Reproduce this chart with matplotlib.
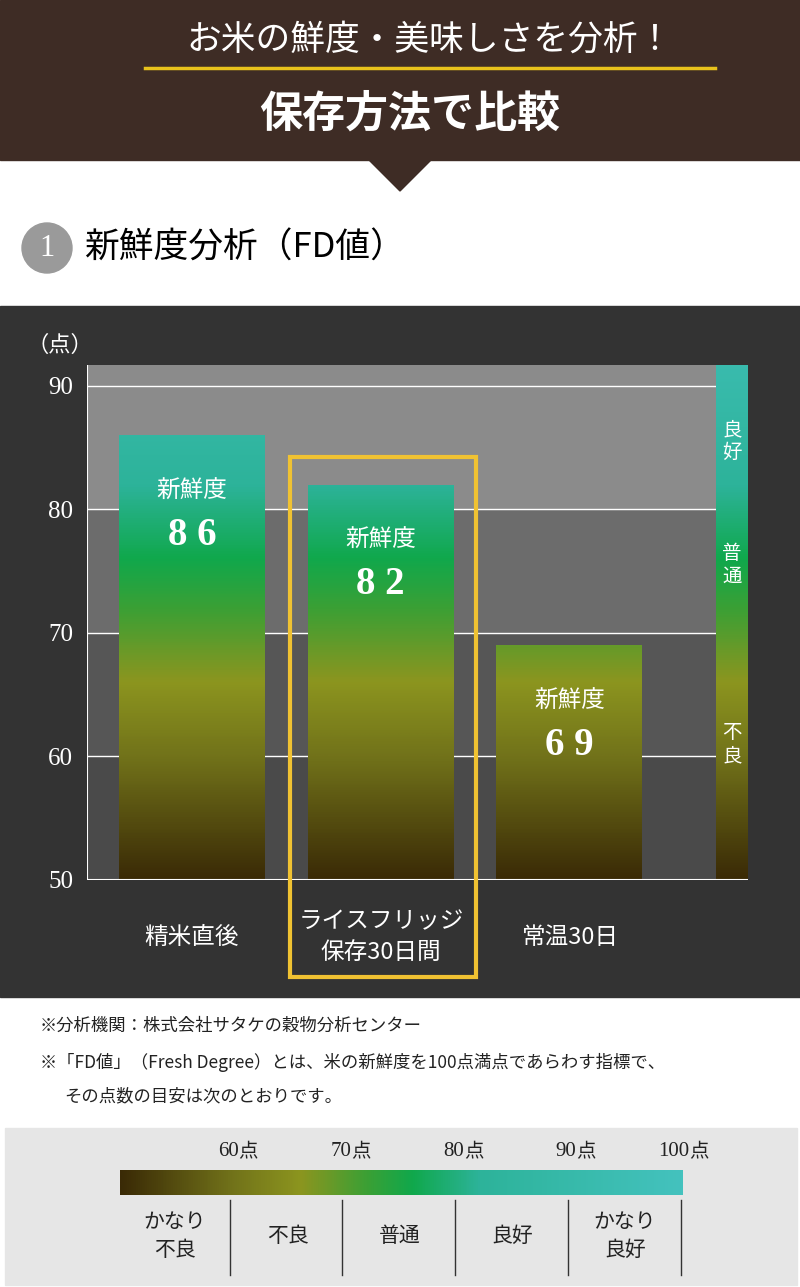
import numpy as np
import matplotlib
matplotlib.use("Agg")
from matplotlib import pyplot as plt
from matplotlib.colors import LinearSegmentedColormap
from matplotlib.patches import Rectangle, Polygon, Circle

JP = "Noto Sans CJK JP"
SERIF = "Liberation Serif"

categories = ["精米直後", "ライスフリッジ\n保存30日間", "常温30日"]
fd_values = [86, 82, 69]
y_ticks = [50, 60, 70, 80, 90]
scale_ticks = [60, 70, 80, 90, 100]
scale_bands = ["かなり\n不良", "不良", "普通", "良好", "かなり\n良好"]
strip_labels = [("良好", 85.5), ("普通", 75.5), ("不良", 61)]

W, H = 800, 1287
fig = plt.figure(figsize=(W / 100, H / 100), dpi=100)
fig.patch.set_facecolor("white")


def fx(x):
    return x / W


def fy(y):
    return 1 - y / H


# colour scale by FD value
stops = [(50, "#3a2a06"), (60, "#72731a"), (66, "#8c951f"), (72, "#3aa035"),
         (76, "#10a84c"), (82, "#2db39a"), (100, "#44c2be")]
cmap = LinearSegmentedColormap.from_list(
    "fd", [((v - 50) / 50, c) for v, c in stops])

# header
bg = fig.add_axes([0, 0, 1, 1])
bg.set_xlim(0, W)
bg.set_ylim(H, 0)
bg.axis("off")
bg.add_patch(Rectangle((0, 0), W, 160, color="#3e2c25"))
bg.add_patch(Polygon([[368, 159], [432, 159], [400, 191]], color="#3e2c25"))
bg.plot([145, 715], [68, 68], color="#e8c21c", lw=2.5)
bg.text(430, 40, "お米の鮮度・美味しさを分析！", color="white", fontsize=25,
        family=JP, ha="center", va="center")
bg.text(410, 114, "保存方法で比較", color="white", fontsize=31, family=JP,
        weight="bold", ha="center", va="center")
bg.add_patch(Circle((47, 248), 25, color="#9a9a9a"))
bg.text(47, 248, "1", color="white", fontsize=22, family=SERIF,
        ha="center", va="center")
bg.text(84, 248, "新鮮度分析（FD値）", color="black", fontsize=25, family=JP,
        ha="left", va="center")

# dark panel
bg.add_patch(Rectangle((0, 306), W, 691, color="#333333"))
bg.text(60, 345, "（点）", color="white", fontsize=16, family=JP,
        ha="center", va="center")

# notes
bg.text(40, 1026, "※分析機関：株式会社サタケの穀物分析センター", fontsize=12.5,
        family=JP, va="center", color="#222222")
bg.text(40, 1062, "※「FD値」（Fresh Degree）とは、米の新鮮度を100点満点であらわす指標で、",
        fontsize=12.5, family=JP, va="center", color="#222222")
bg.text(64, 1096, "その点数の目安は次のとおりです。", fontsize=12.5, family=JP,
        va="center", color="#222222")

# legend box
bg.add_patch(Rectangle((5, 1128), 792, 157, color="#e6e6e6"))
for x in [230, 342, 455, 568, 681]:
    bg.plot([x, x], [1200, 1275], color="#333333", lw=1)

# main chart
ax = fig.add_axes([fx(87), fy(880), 661 / W, 515 / H])
ax.set_xlim(-0.556, 2.947)
ax.set_ylim(50, 91.7)
band_cols = ["#4a4a4a", "#565656", "#6c6c6c", "#8b8b8b", "#8b8b8b"]
for i, lo in enumerate(y_ticks):
    ax.axhspan(lo, lo + 10, color=band_cols[i], zorder=0)
for t in y_ticks[1:]:
    ax.axhline(t, color="white", lw=1, zorder=1)
ax.axhline(50, color="white", lw=1.5, zorder=4)

grad = np.linspace(50, 100, 500).reshape(-1, 1)
bw = 0.772
for i, v in enumerate(fd_values):
    im = ax.imshow(grad, cmap=cmap, vmin=50, vmax=100, origin="lower",
                   extent=[i - bw / 2, i + bw / 2, 50, 100], aspect="auto", zorder=2)
    im.set_clip_path(Rectangle((i - bw / 2, 50), bw, v - 50, transform=ax.transData))
    ax.text(i, v - 4.5, "新鮮度", color="white", fontsize=17, family=JP,
            ha="center", va="center", zorder=5)
    ax.text(i, v - 8.1, " ".join(str(v)), color="white", fontsize=28, family=SERIF,
            weight="bold", ha="center", va="center", zorder=5)

# rating strip
im = ax.imshow(grad, cmap=cmap, vmin=50, vmax=100, origin="lower",
               extent=[2.778, 2.947, 50, 100], aspect="auto", zorder=2)
im.set_clip_path(Rectangle((2.778, 50), 0.17, 41.7, transform=ax.transData))
for lab, yv in strip_labels:
    ax.text(2.862, yv, "\n".join(lab), color="white", fontsize=14, family=JP,
            ha="center", va="center", linespacing=1.1, zorder=5)

ax.set_yticks(y_ticks)
ax.set_yticklabels([str(t) for t in y_ticks], color="white", fontsize=18,
                   family=SERIF)
ax.tick_params(axis="y", length=0, pad=10)
ax.set_xticks([])
for s in ax.spines.values():
    s.set_visible(False)
ax.axvline(-0.556, color="white", lw=1.5, zorder=4)

for i, c in enumerate(categories):
    bg.text(192 + 189 * i, 937, c, color="white", fontsize=17, family=JP,
            ha="center", va="center", linespacing=1.4)

# overlay for the highlight frame (above the chart axes)
top = fig.add_axes([0, 0, 1, 1], zorder=10)
top.set_xlim(0, W)
top.set_ylim(H, 0)
top.axis("off")
top.patch.set_alpha(0)
top.add_patch(Rectangle((290, 457), 186, 520, fill=False, ec="#f0c232", lw=3))

# scale bar
sax = fig.add_axes([fx(120), fy(1195), 563 / W, 25 / H])
sax.imshow(grad.T, cmap=cmap, vmin=50, vmax=100, extent=[50, 100, 0, 1],
           aspect="auto")
sax.axis("off")
for t in scale_ticks:
    x0 = 120 + (t - 50) * 11.26
    bg.text(x0 + 6, 1152, str(t), fontsize=15, family=SERIF,
            ha="right", va="center", color="#222222")
    bg.text(x0 + 6, 1152, "点", fontsize=14, family=JP,
            ha="left", va="center", color="#222222")
for i, lab in enumerate(scale_bands):
    bg.text(175 + 112.5 * i, 1236, lab, fontsize=15, family=JP, ha="center",
            va="center", linespacing=1.3, color="#222222")

fig.savefig("out.png", dpi=100)
